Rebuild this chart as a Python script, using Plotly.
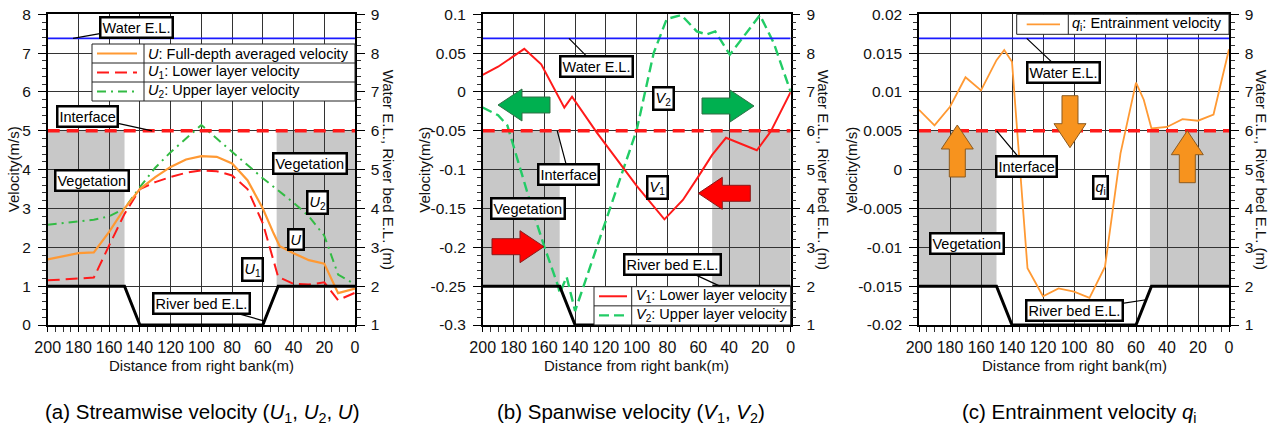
import plotly.graph_objects as go

FONT = "Arial, 'Liberation Sans', sans-serif"
W, H = 1275, 437

# ---------------- data ----------------
# (a) streamwise velocity (m/s)
x_U = [200, 190, 180, 170, 160, 150, 140, 130, 120, 110, 100, 90, 80, 70, 60, 53, 49, 40, 30, 20, 11, 0]
U = [1.69, 1.78, 1.85, 1.87, 2.4, 3.0, 3.5, 3.81, 4.07, 4.26, 4.35, 4.33, 4.16, 3.73, 3.0, 2.36, 2.03, 1.85, 1.67, 1.58, 0.82, 0.94]
x_U1 = [200, 190, 180, 170, 160, 150, 140, 130, 120, 110, 100, 90, 80, 70, 60, 54, 50, 40, 30, 20, 11, 0]
U1 = [1.15, 1.17, 1.2, 1.22, 2.05, 2.86, 3.5, 3.68, 3.81, 3.92, 3.98, 3.96, 3.85, 3.5, 2.62, 1.76, 1.24, 1.06, 1.04, 1.1, 0.64, 0.83]
x_U2 = [200, 190, 180, 170, 160, 150, 140, 130, 120, 110, 100, 90, 80, 70, 60, 50, 40, 30, 20, 11, 0]
U2 = [2.58, 2.62, 2.66, 2.71, 2.8, 3.0, 3.55, 4.05, 4.45, 4.8, 5.15, 4.8, 4.45, 4.12, 3.78, 3.47, 3.15, 2.8, 2.3, 1.3, 1.05]

# (b) spanwise velocity (m/s)
x_V1 = [200, 190, 173, 162, 147, 142, 126, 100, 82, 70, 60, 51, 42, 22, 13, 0]
V1 = [0.022, 0.0325, 0.0555, 0.0356, -0.0202, -0.006, -0.052, -0.121, -0.164, -0.139, -0.109, -0.081, -0.059, -0.075, -0.051, 0.0]
x_V2 = [200, 190, 184, 167, 160, 151, 150, 145.5, 140, 111, 100, 89, 80.5, 71, 61, 54.5, 49, 39.5, 20, 11, 0]
V2 = [-0.02, -0.03, -0.043, -0.156, -0.199, -0.25, -0.259, -0.238, -0.282, -0.113, -0.049, 0.05, 0.094, 0.099, 0.078, 0.074, 0.078, 0.048, 0.099, 0.063, 0.0]

# (c) entrainment velocity (m/s)
x_q = [200, 190, 180, 170, 160, 150, 145, 140, 130, 120, 110, 100, 90, 80, 70, 60, 55, 50, 40, 30, 20, 10, 0]
q = [0.0077, 0.0057, 0.0081, 0.0119, 0.0102, 0.0141, 0.0154, 0.0139, -0.0127, -0.0163, -0.0153, -0.0157, -0.0165,
     -0.0125, 0.0021, 0.0112, 0.0090, 0.0053, 0.0055, 0.0065, 0.0063, 0.0071, 0.0155]

# elevations (m, right axis)
bed_x = [200, 150, 140, 60, 50, 0]
bed_el = [2, 2, 1, 1, 2, 2]
water_x = [200, 0]
water_el = [8.38, 8.38]
interface_x = [200, 0]
interface_el = [6, 6]
veg_zones = [(200, 150), (51, 0)]
veg_bottom, veg_top = 2, 6

# tick labels
x_ticks = list(range(0, 201, 20))
a_tickvals = [0, 1, 2, 3, 4, 5, 6, 7, 8]
a_ticktext = ["0", "1", "2", "3", "4", "5", "6", "7", "8"]
b_tickvals = [-0.3, -0.25, -0.2, -0.15, -0.1, -0.05, 0, 0.05, 0.1]
b_ticktext = ["-0.3", "-0.25", "-0.2", "-0.15", "-0.1", "-0.05", "0", "0.05", "0.1"]
c_tickvals = [-0.02, -0.015, -0.01, -0.005, 0, 0.005, 0.01, 0.015, 0.02]
c_ticktext = ["-0.02", "-0.015", "-0.01", "-0.005", "0", "0.005", "0.01", "0.015", "0.02"]
r_tickvals = [1, 2, 3, 4, 5, 6, 7, 8, 9]

# colours
ORANGE = "#ff9933"
RED = "#ff1a1a"
GREEN_A = "#33bb44"
GREEN_B = "#22cc66"
BLUE = "#1a1aff"
GREY = "#c8c8c8"
GRID = "#333333"

# ---------------- layout geometry (pixels) ----------------
panels = [
    dict(l=47.7, r=355.0),
    dict(l=482.7, r=790.7),
    dict(l=919.0, r=1229.0),
]
TOP, BOT = 14.3, 325.0


def PX(x):
    return x / W


def PY(y):
    return 1 - y / H


fig = go.Figure()

ynames = [("y", "y2"), ("y3", "y4"), ("y5", "y6")]
xnames = ["x", "x2", "x3"]
left_specs = [
    dict(range=[0, 8], tickvals=a_tickvals, ticktext=a_ticktext, minor=0.2),
    dict(range=[-0.3, 0.1], tickvals=b_tickvals, ticktext=b_ticktext, minor=0.01),
    dict(range=[-0.02, 0.02], tickvals=c_tickvals, ticktext=c_ticktext, minor=0.001),
]

tickfont = dict(family=FONT, size=15.5, color="#111")
xtickfont = dict(family=FONT, size=16, color="#111")

for i, p in enumerate(panels):
    xn = xnames[i]
    yl, yr = ynames[i]
    xkey = "xaxis" if i == 0 else f"xaxis{i+1}"
    ylkey = "yaxis" if yl == "y" else "yaxis" + yl[1:]
    yrkey = "yaxis" + yr[1:]
    spec = left_specs[i]
    fig.layout[xkey] = dict(
        domain=[PX(p["l"]), PX(p["r"])], range=[200, 0], anchor=yl, automargin=False,
        tickmode="array", tickvals=x_ticks, ticktext=[str(v) for v in x_ticks],
        showgrid=True, gridcolor=GRID, gridwidth=1, zeroline=False,
        showline=True, linecolor="black", linewidth=1.5, mirror=True,
        ticks="outside", ticklen=5, tickcolor="black", tickwidth=1,
        minor=dict(ticks="outside", dtick=5, tick0=0, ticklen=5, tickcolor="#333", showgrid=False),
        tickfont=xtickfont, ticklabelstandoff=2,
    )
    fig.layout[ylkey] = dict(
        domain=[PY(BOT), PY(TOP)], range=spec["range"], anchor=xn, automargin=False,
        tickmode="array", tickvals=spec["tickvals"], ticktext=spec["ticktext"],
        showgrid=True, gridcolor=GRID, gridwidth=1, zeroline=False,
        showline=True, linecolor="black", linewidth=1.5, mirror=True,
        ticks="outside", ticklen=8, tickcolor="black",
        minor=dict(ticks="outside", dtick=spec["minor"], tick0=0, ticklen=4, tickcolor="#333", showgrid=False),
        tickfont=tickfont, ticklabelstandoff=4,
    )
    fig.layout[yrkey] = dict(
        overlaying=yl, side="right", anchor=xn, range=[1, 9], automargin=False,
        tickmode="array", tickvals=r_tickvals, ticktext=[str(v) for v in r_tickvals],
        showgrid=False, zeroline=False, showline=True, linecolor="black", linewidth=1.5,
        ticks="outside", ticklen=8, tickcolor="black",
        minor=dict(ticks="outside", dtick=0.2, tick0=1, ticklen=4, tickcolor="#333", showgrid=False),
        tickfont=tickfont, ticklabelstandoff=3,
    )

shapes = []
annotations = []

# vegetation zones + elevation lines in every panel
for i in range(3):
    xn = xnames[i]
    yl, yr = ynames[i]
    for x0, x1 in veg_zones:
        shapes.append(dict(type="rect", xref=xn, yref=yr, x0=x0, x1=x1, y0=veg_bottom, y1=veg_top,
                           fillcolor=GREY, line=dict(width=0), layer="below"))
    fig.add_trace(go.Scatter(x=water_x, y=water_el, xaxis=xn, yaxis=yr, mode="lines",
                             line=dict(color=BLUE, width=1.6), showlegend=False, hoverinfo="skip"))
    fig.add_trace(go.Scatter(x=interface_x, y=interface_el, xaxis=xn, yaxis=yr, mode="lines",
                             line=dict(color=RED, width=3.5, dash="12px,7px"), showlegend=False, hoverinfo="skip"))
    fig.add_trace(go.Scatter(x=bed_x, y=bed_el, xaxis=xn, yaxis=yr, mode="lines",
                             line=dict(color="black", width=3), showlegend=False, hoverinfo="skip"))

# data series
fig.add_trace(go.Scatter(x=x_U2, y=U2, xaxis="x", yaxis="y", mode="lines", name="U2",
                         line=dict(color=GREEN_A, width=2, dash="9px,5px,2px,5px"), showlegend=False))
fig.add_trace(go.Scatter(x=x_U1, y=U1, xaxis="x", yaxis="y", mode="lines", name="U1",
                         line=dict(color=RED, width=2, dash="12px,6px"), showlegend=False))
fig.add_trace(go.Scatter(x=x_U, y=U, xaxis="x", yaxis="y", mode="lines", name="U",
                         line=dict(color=ORANGE, width=2.2), showlegend=False))
fig.add_trace(go.Scatter(x=x_V2, y=V2, xaxis="x2", yaxis="y3", mode="lines", name="V2",
                         line=dict(color=GREEN_B, width=2.4, dash="10px,5px"), showlegend=False))
fig.add_trace(go.Scatter(x=x_V1, y=V1, xaxis="x2", yaxis="y3", mode="lines", name="V1",
                         line=dict(color=RED, width=2), showlegend=False))
fig.add_trace(go.Scatter(x=x_q, y=q, xaxis="x3", yaxis="y5", mode="lines", name="qi",
                         line=dict(color=ORANGE, width=1.8), showlegend=False))

LBL = dict(family=FONT, size=14.5, color="black")


def boxed(text, x, y, xref, yref, ax=None, ay=None):
    d = dict(text=text, x=x, y=y, xref=xref, yref=yref, font=LBL, bgcolor="white",
             bordercolor="black", borderwidth=2.5, borderpad=1)
    if ax is None:
        d.update(showarrow=False, xanchor="center", yanchor="middle")
    else:
        d.update(showarrow=True, ax=ax, ay=ay, arrowhead=0, arrowwidth=1.2, arrowcolor="black",
                 standoff=0, startstandoff=0)
    return d


# (a)
annotations += [
    boxed("Water E.L.", 183.5, 8.38, "x", "y2", 63, -11),
    boxed("Interface", 132, 6, "x", "y2", -64.5, -14),
    boxed("River bed E.L.", 59, 1.1, "x", "y2", -63, -18),
    boxed("Vegetation", 171.2, 4.72, "x", "y2"),
    boxed("Vegetation", 29.3, 5.17, "x", "y2"),
    boxed("<i>U</i><sub>2</sub>", 24.4, 4.15, "x", "y2"),
    boxed("<i>U</i>", 38.1, 3.19, "x", "y2"),
    boxed("<i>U</i><sub>1</sub>", 66.4, 2.42, "x", "y2"),
]
# (b)
annotations += [
    boxed("Water E.L.", 144, 8.38, "x2", "y4", 27.5, 27.7),
    boxed("Interface", 151.6, 6, "x2", "y4", 11.7, 44),
    boxed("River bed E.L.", 46, 2, "x2", "y4", -47.5, -22),
    boxed("<i>V</i><sub>2</sub>", 82.3, 6.82, "x2", "y4"),
    boxed("<i>V</i><sub>1</sub>", 86.2, 4.55, "x2", "y4"),
    boxed("Vegetation", 170.9, 4.01, "x2", "y4"),
]
# (c)
annotations += [
    boxed("Water E.L.", 130.5, 8.38, "x3", "y6", 36.3, 34.2),
    boxed("Interface", 149.9, 6, "x3", "y6", 30, 36),
    boxed("River bed E.L.", 53.5, 1.65, "x3", "y6", -72, 11),
    boxed("<i>q</i><sub>i</sub>", 82.6, 4.53, "x3", "y6"),
    boxed("Vegetation", 169.2, 3.09, "x3", "y6"),
]


# ---------------- block arrows (pixel geometry) ----------------
def block_arrow(tx, ty, direction, fill, edge, L=52, HL=24, HW=32, BW=16):
    back = {"left": (1, 0), "right": (-1, 0), "up": (0, 1), "down": (0, -1)}[direction]
    perp = (-back[1], back[0])
    pts = [(0, 0), (HL, -HW / 2), (HL, -BW / 2), (L, -BW / 2), (L, BW / 2), (HL, BW / 2), (HL, HW / 2)]
    path = ""
    for k, (a, c) in enumerate(pts):
        X = tx + a * back[0] + c * perp[0]
        Y = ty + a * back[1] + c * perp[1]
        path += ("M" if k == 0 else "L") + f"{PX(X):.5f},{PY(Y):.5f}"
    path += "Z"
    return dict(type="path", path=path, xref="paper", yref="paper", fillcolor=fill,
                line=dict(color=edge, width=1), layer="above")


arrow_glyphs = [
    (498, 105, "left", "#00b050", "#2f6f45"),
    (754, 106, "right", "#00b050", "#2f6f45"),
    (698.3, 193.3, "left", "#ff0000", "#8b1a1a"),
    (544, 246.7, "right", "#ff0000", "#8b1a1a"),
    (957.3, 125, "up", "#f7931e", "#8a5a20"),
    (1070, 147.7, "down", "#f7931e", "#8a5a20"),
    (1187.3, 130.7, "up", "#f7931e", "#8a5a20"),
]
for g in arrow_glyphs:
    shapes.append(block_arrow(*g))


# ---------------- custom legends ----------------
def legend_table(x0, y0, x1, y1, divx, rows, sample_x0, sample_x1):
    out_s, out_a = [], []
    out_s.append(dict(type="rect", xref="paper", yref="paper", x0=PX(x0), x1=PX(x1), y0=PY(y1), y1=PY(y0),
                      fillcolor="white", line=dict(color="#222", width=1), layer="above"))
    out_s.append(dict(type="line", xref="paper", yref="paper", x0=PX(divx), x1=PX(divx), y0=PY(y1), y1=PY(y0),
                      line=dict(color="#222", width=1), layer="above"))
    n = len(rows)
    h = (y1 - y0) / n
    for k, (text, color, dash, width) in enumerate(rows):
        if k > 0:
            yy = y0 + k * h
            out_s.append(dict(type="line", xref="paper", yref="paper", x0=PX(x0), x1=PX(x1), y0=PY(yy), y1=PY(yy),
                              line=dict(color="#222", width=1), layer="above"))
        yc = y0 + (k + 0.5) * h
        out_s.append(dict(type="line", xref="paper", yref="paper", x0=PX(sample_x0), x1=PX(sample_x1),
                          y0=PY(yc), y1=PY(yc), line=dict(color=color, width=width, dash=dash), layer="above"))
        out_a.append(dict(text=text, x=PX(divx + 2), y=PY(yc), xref="paper", yref="paper", showarrow=False,
                          xanchor="left", yanchor="middle", font=LBL))
    return out_s, out_a


s, a = legend_table(92, 44, 355, 101, 144, [
    ("<i>U</i>: Full-depth averaged velocity", ORANGE, "solid", 2.2),
    ("<i>U</i><sub>1</sub>: Lower layer velocity", RED, "12px,6px", 2),
    ("<i>U</i><sub>2</sub>: Upper layer velocity", GREEN_A, "9px,5px,2px,5px", 2),
], 97, 137)
shapes += s
annotations += a
s, a = legend_table(594, 286.7, 790.7, 325, 631.7, [
    ("<i>V</i><sub>1</sub>: Lower layer velocity", RED, "solid", 2),
    ("<i>V</i><sub>2</sub>: Upper layer velocity", GREEN_B, "10px,5px", 2.2),
], 599, 627)
shapes += s
annotations += a
s, a = legend_table(1016.7, 14.3, 1229, 34.3, 1068.3, [
    ("<i>q</i><sub>i</sub>: Entrainment velocity", ORANGE, "solid", 1.8),
], 1026.7, 1060)
shapes += s
annotations += a

# ---------------- axis titles & captions ----------------
TITLE = dict(family=FONT, size=15, color="#111")
left_title_x = [13.5, 425, 852]
right_title_x = [388, 823, 1261]
captions = [
    "(a) Streamwise velocity (<i>U</i><sub>1</sub>, <i>U</i><sub>2</sub>, <i>U</i>)",
    "(b) Spanwise velocity (<i>V</i><sub>1</sub>, <i>V</i><sub>2</sub>)",
    "(c) Entrainment velocity <i>q</i><sub>i</sub>",
]
caption_x = [202, 631, 1079]
for i, p in enumerate(panels):
    annotations.append(dict(text="Velocity(m/s)", x=PX(left_title_x[i]), y=PY((TOP + BOT) / 2), xref="paper",
                            yref="paper", showarrow=False, textangle=-90, font=TITLE,
                            xanchor="center", yanchor="middle"))
    annotations.append(dict(text="Water E.L., River bed E.L. (m)", x=PX(right_title_x[i]), y=PY((TOP + BOT) / 2),
                            xref="paper", yref="paper", showarrow=False, textangle=90, font=TITLE,
                            xanchor="center", yanchor="middle"))
    annotations.append(dict(text="Distance from right bank(m)", x=PX((p["l"] + p["r"]) / 2), y=PY(365),
                            xref="paper", yref="paper", showarrow=False, font=TITLE,
                            xanchor="center", yanchor="middle"))
    annotations.append(dict(text=captions[i], x=PX(caption_x[i]), y=PY(413), xref="paper", yref="paper",
                            showarrow=False, font=dict(family=FONT, size=20.5, color="black"),
                            xanchor="center", yanchor="middle"))

fig.update_layout(
    width=W, height=H, margin=dict(l=0, r=0, t=0, b=0, autoexpand=False),
    paper_bgcolor="white", plot_bgcolor="white",
    shapes=shapes, annotations=annotations, showlegend=False,
    font=dict(family=FONT),
)

fig.write_html("out.html")
